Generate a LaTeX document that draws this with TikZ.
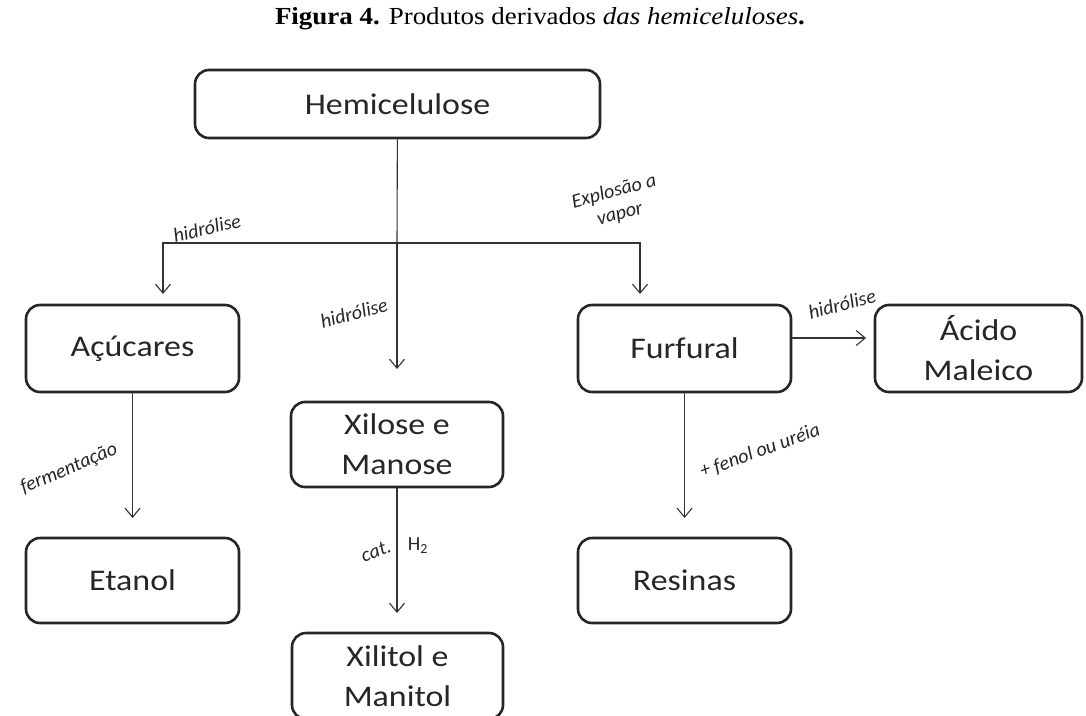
\documentclass[tikz,border=0pt]{standalone}
\usepackage{fontspec}
\setmainfont{Carlito}
\newfontfamily\boxfont{Carlito}[FakeStretch=1.13]
\newfontfamily\titlefont{Liberation Serif}[FakeStretch=1.1]
\usetikzlibrary{arrows.meta}

\begin{document}
\begin{tikzpicture}[x=1pt, y=-1pt]
      \useasboundingbox (0,0) rectangle (1086,715);
      \tikzstyle{box}=[draw=black!85, line width=2.6pt, rounded corners=14pt,
        inner sep=0pt, align=center, text=black!85,
        font=\boxfont\fontsize{30}{40}\selectfont]
      \tikzstyle{arr}=[draw=black!80, line width=1.1pt,
        -{Straight Barb[length=9pt, width=15pt, line width=1.1pt]}]
      \tikzstyle{lbl}=[inner sep=0pt, text=black!85,
        font=\fontsize{20}{23}\selectfont\itshape]

      \path (540, 19) node[inner sep=0pt, font=\titlefont\fontsize{24.5}{28}\selectfont] (title)
        {\textbf{Figura 4.} Produtos derivados \textit{das hemiceluloses}\textbf{.}};

      \path (397.5, 104) node[box, minimum width=405pt, minimum height=68pt] (hemi) {Hemicelulose};
      \path (132.5, 348.5) node[box, minimum width=213pt, minimum height=87pt] (acu) {Açúcares};
      \path (397, 444.5) node[box, minimum width=212pt, minimum height=85pt] (xil) {Xilose e\\Manose};
      \path (684.5, 348.5) node[box, minimum width=213pt, minimum height=87pt] (fur) {Furfural};
      \path (978.5, 348.5) node[box, minimum width=207pt, minimum height=87pt] (aci) {Ácido\\Maleico};
      \path (132.5, 580.5) node[box, minimum width=213pt, minimum height=85pt] (eta) {Etanol};
      \path (684.5, 580.5) node[box, minimum width=213pt, minimum height=85pt] (res) {Resinas};
      \path (397.5, 676) node[box, minimum width=211pt, minimum height=86pt] (xit) {Xilitol e\\Manitol};

      % split below the first box and arrow tips
      \coordinate (j) at (397, 243);
      \coordinate (t1) at (163, 294);
      \coordinate (t2) at (397, 369);
      \coordinate (t3) at (640, 294);
      \coordinate (t4) at (866, 338);
      \coordinate (t5) at (132.5, 518);
      \coordinate (t6) at (684.5, 518);
      \coordinate (t7) at (397, 613);

      \draw [draw=black!80, line width=1.1pt] (hemi) -- (j);
      \draw [arr] (j) -| (t1);
      \draw [arr] (j) -- (t2);
      \draw [arr] (j) -| (t3);
      \draw [arr] (fur.east |- t4) -- (t4);
      \draw [arr] (acu) -- (t5);
      \draw [arr] (fur) -- (t6);
      \draw [arr] (xil) -- (t7);

      \path (207, 228) node[lbl, rotate=13] (l1) {hidrólise};
      \path (354, 313) node[lbl, rotate=15] (l2) {hidrólise};
      \path (617, 203) node[lbl, rotate=15, align=center] (l3) {Explosão a\\vapor};
      \path (842, 304) node[lbl, rotate=15] (l4) {hidrólise};
      \path (69, 469) node[lbl, rotate=23] (l5) {fermentação};
      \path (376, 551) node[lbl, rotate=20] (l6) {cat.};
      \path (418, 546) node[lbl, font=\fontsize{20}{23}\selectfont] (l7) {H\textsubscript{2}};
      \path (760, 451) node[lbl, rotate=20] (l8) {+ fenol ou uréia};
    \end{tikzpicture}
\end{document}
